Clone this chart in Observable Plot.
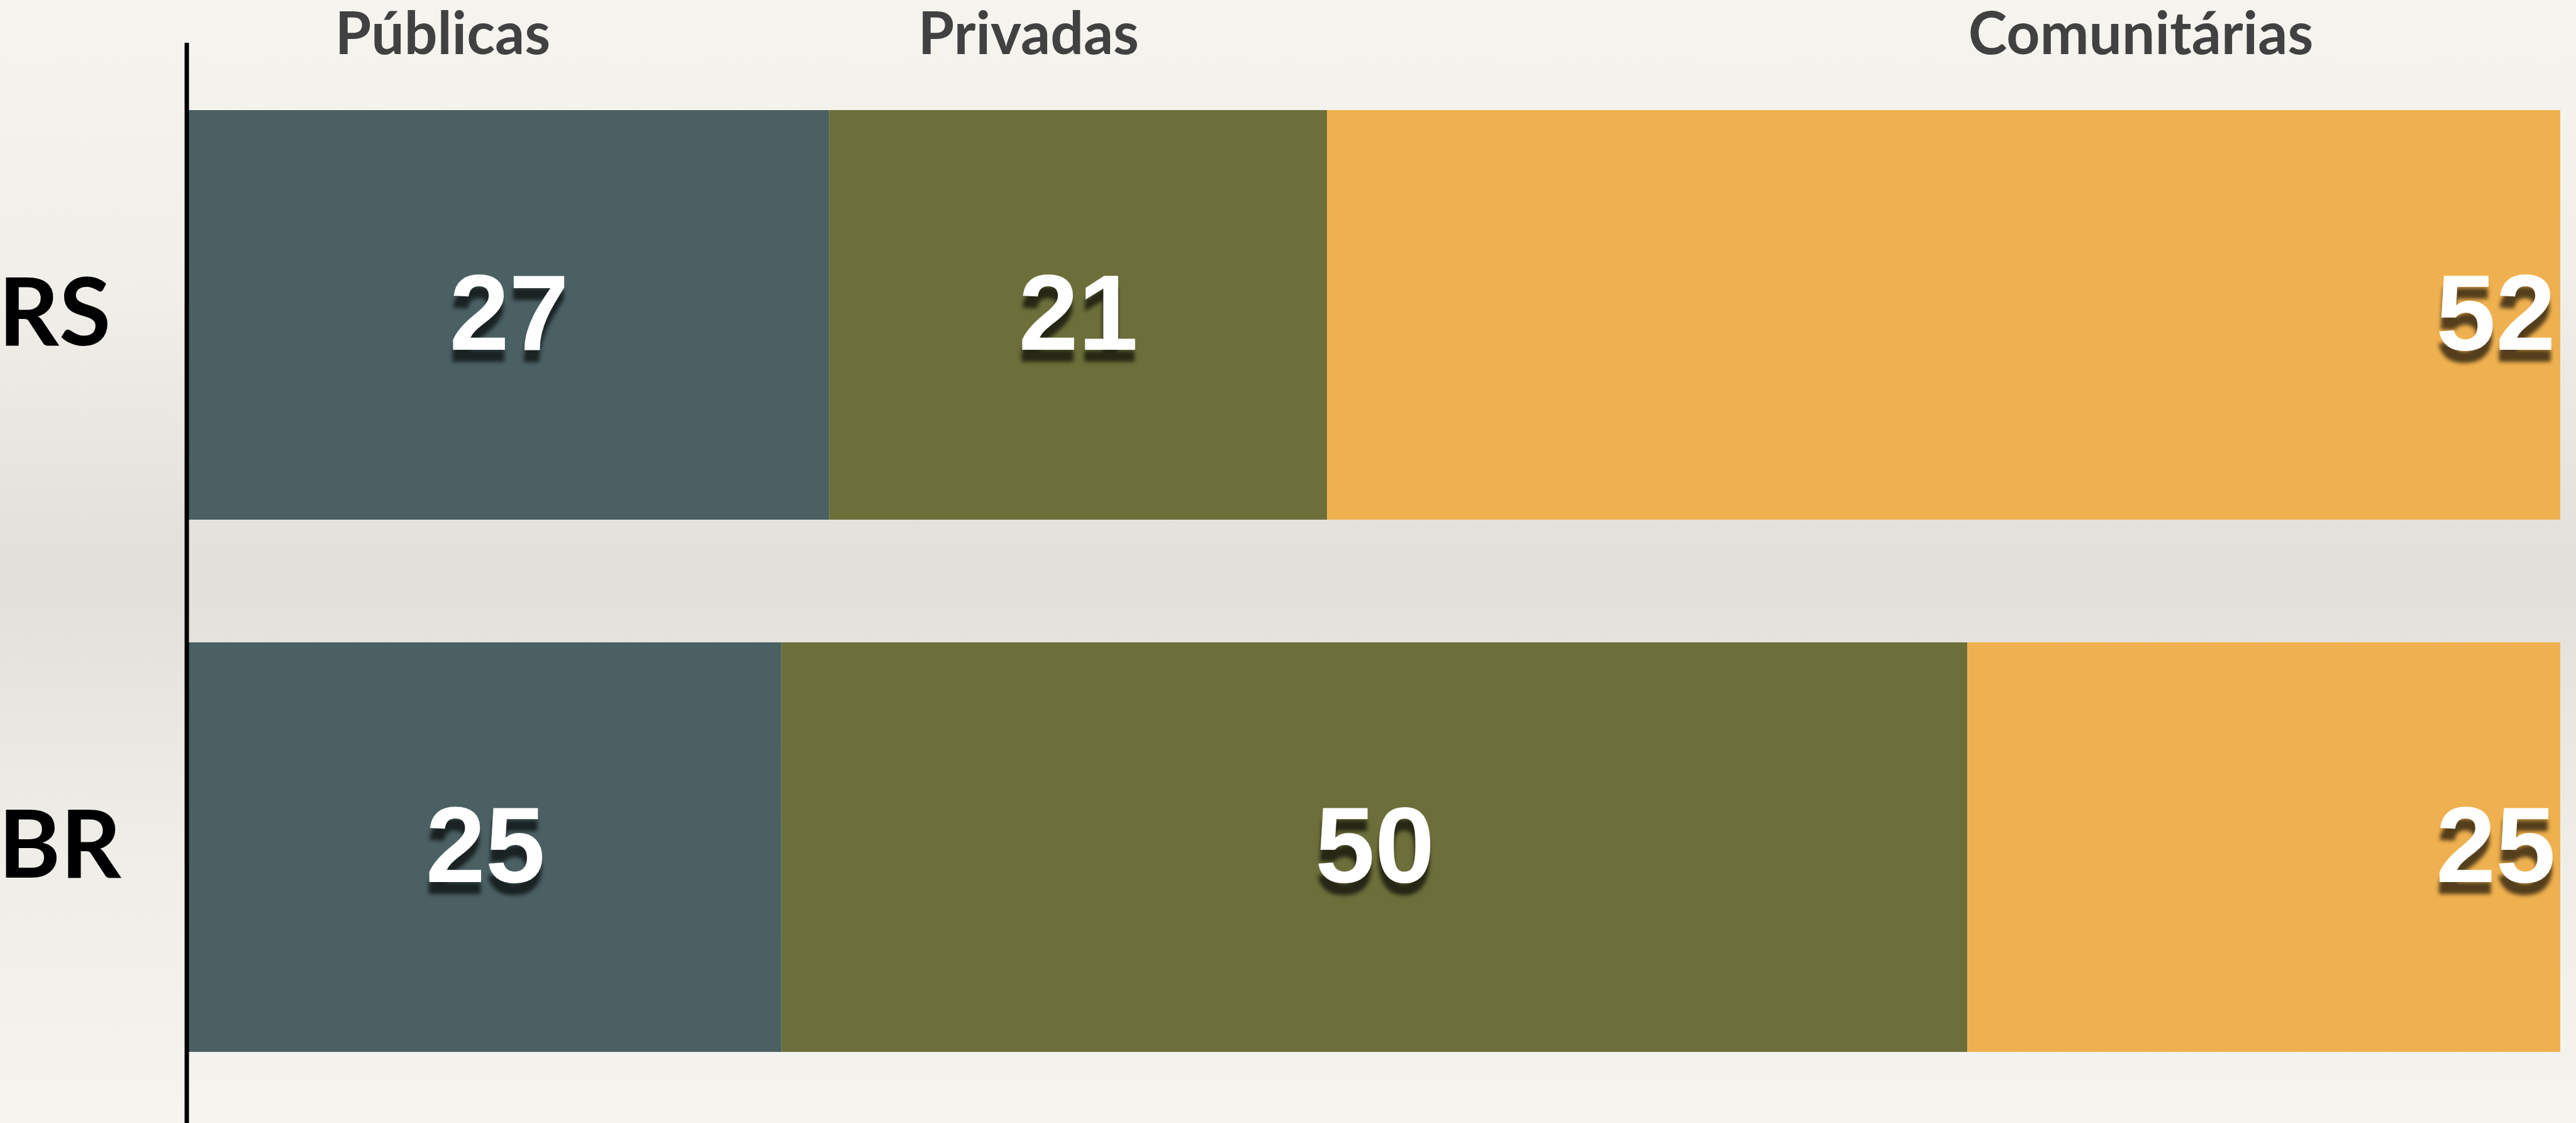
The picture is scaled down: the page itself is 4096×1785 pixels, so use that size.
<!DOCTYPE html>
<html>
<head>
<meta charset="utf-8">
<script src="https://cdn.jsdelivr.net/npm/d3@7"></script>
<script src="https://cdn.jsdelivr.net/npm/@observablehq/plot@0.6"></script>
<style>
  html, body { margin: 0; padding: 0; overflow: hidden; }
  body {
    width: 4096px; height: 1785px;
    background: linear-gradient(to bottom, #f6f4ef 0%, #f1efea 25%, #e4e1dc 48%, #e4e1dc 54%, #efede8 75%, #f6f4ef 100%);
  }
  .val text { filter: drop-shadow(-1px 19px 3px rgba(0,0,0,0.65)); }
</style>
</head>
<body>
<div id="chart"></div>
<script>
// ---- data ----
const regions = ["RS", "BR"];
const types = ["Públicas", "Privadas", "Comunitárias"];
const rsValues = [27, 21, 52];
const brValues = [25, 50, 25];
const typeColors = ["#4a6063", "#6c6f3a", "#efb14f"];
// header label anchors along the 0–100 axis
const headerX = [10.7, 35.4, 82.3];

// ---- build table ----
const seriesByRegion = {RS: rsValues, BR: brValues};
const rows = [];
for (const r of regions) {
  let acc = 0;
  seriesByRegion[r].forEach((v, i) => {
    rows.push({region: r, type: types[i], value: v, start: acc, end: acc + v, last: i === types.length - 1});
    acc += v;
  });
}
const headers = types.map((t, i) => ({type: t, x: headerX[i]}));

const chart = Plot.plot({
  width: 4096,
  height: 1785,
  marginLeft: 300,
  marginRight: 25,
  marginTop: 174.7,
  marginBottom: 112.4,
  style: {background: "transparent", overflow: "visible"},
  x: {domain: [0, 100], axis: null},
  y: {domain: regions, axis: null, paddingInner: 0.23, paddingOuter: 0},
  color: {domain: types, range: typeColors},
  marks: [
    Plot.barX(rows, {x1: "start", x2: "end", y: "region", fill: "type"}),
    Plot.ruleX([0], {stroke: "#000", strokeWidth: 7, dx: -3.5, insetTop: -106.7, insetBottom: -130}),
    // header labels
    Plot.text(headers, {
      x: "x", frameAnchor: "top", text: "type", lineAnchor: "bottom", dy: -89.7,
      fill: "#414141", fontSize: 93, fontWeight: 700, fontFamily: "Lato"
    }),
    // row labels
    Plot.text(regions, {
      y: d => d, text: d => d, frameAnchor: "left", textAnchor: "start", dx: -303,
      fill: "#000", fontSize: 150, fontWeight: 700, fontFamily: "Lato"
    }),
    // centered values
    Plot.text(rows.filter(d => !d.last), {
      x: d => (d.start + d.end) / 2, y: "region", text: "value",
      fill: "#fff", fontSize: 171, fontWeight: 700, fontFamily: "Liberation Sans",
      className: "val"
    }),
    // right-aligned last values
    Plot.text(rows.filter(d => d.last), {
      x: "end", y: "region", text: "value", textAnchor: "end", dx: -8,
      fill: "#fff", fontSize: 171, fontWeight: 700, fontFamily: "Liberation Sans",
      className: "val"
    })
  ]
});
document.getElementById("chart").appendChild(chart);
</script>
</body>
</html>
